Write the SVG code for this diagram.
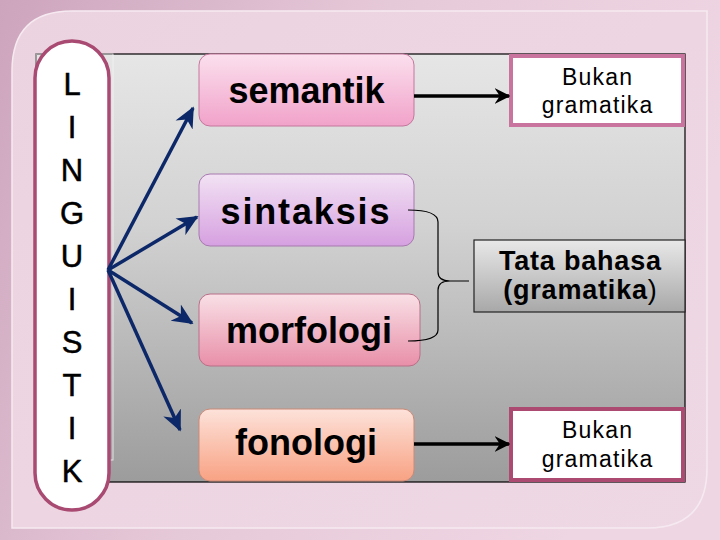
<svg xmlns="http://www.w3.org/2000/svg" width="720" height="540" viewBox="0 0 720 540">
<defs>
<linearGradient id="bg" x1="0" y1="0" x2="1" y2="0.3">
<stop offset="0" stop-color="#cda5bd"/>
<stop offset="0.5" stop-color="#e6c9d9"/>
<stop offset="1" stop-color="#efd6e3"/>
</linearGradient>
<linearGradient id="panel" x1="0" y1="0" x2="1" y2="1">
<stop offset="0" stop-color="#ecd3e0"/>
<stop offset="1" stop-color="#eed8e4"/>
</linearGradient>
<linearGradient id="gray" x1="0" y1="0" x2="0" y2="1">
<stop offset="0" stop-color="#e6e6e6"/>
<stop offset="0.4" stop-color="#d2d2d2"/>
<stop offset="1" stop-color="#9c9c9c"/>
</linearGradient>
<linearGradient id="gSem" x1="0" y1="0" x2="0" y2="1">
<stop offset="0" stop-color="#fbe0ee"/>
<stop offset="1" stop-color="#f1a2c9"/>
</linearGradient>
<linearGradient id="gSin" x1="0" y1="0" x2="0" y2="1">
<stop offset="0" stop-color="#f2e2f4"/>
<stop offset="1" stop-color="#d6a0e0"/>
</linearGradient>
<linearGradient id="gMor" x1="0" y1="0" x2="0" y2="1">
<stop offset="0" stop-color="#f9e0e6"/>
<stop offset="1" stop-color="#e88fa9"/>
</linearGradient>
<linearGradient id="gFon" x1="0" y1="0" x2="0" y2="1">
<stop offset="0" stop-color="#fde2da"/>
<stop offset="1" stop-color="#f8a283"/>
</linearGradient>
<linearGradient id="gTata" x1="0" y1="0" x2="0" y2="1">
<stop offset="0" stop-color="#e8e8e8"/>
<stop offset="1" stop-color="#a8a8a8"/>
</linearGradient>
<marker id="blue" viewBox="0 0 12 12" refX="11" refY="6" markerWidth="6" markerHeight="6" markerUnits="strokeWidth" orient="auto">
<path d="M0,0.5 L12,6 L0,11.5 L3.5,6 Z" fill="#0c2868"/>
</marker>
<marker id="black" viewBox="0 0 12 12" refX="11" refY="6" markerWidth="4.5" markerHeight="4.5" markerUnits="strokeWidth" orient="auto">
<path d="M0,0 L12,6 L0,12 L4,6 Z" fill="#000"/>
</marker>
</defs>
<style>
.node text{font-family:"Liberation Sans",Arial,sans-serif;font-weight:bold;font-size:36px;fill:#000;text-anchor:middle}
.nb{stroke-width:1}
.buk{font-family:"Liberation Sans",Arial,sans-serif;font-size:23px;letter-spacing:1.2px;fill:#000;text-anchor:middle}
.tata{font-family:"Liberation Sans",Arial,sans-serif;font-weight:bold;font-size:27px;letter-spacing:0.8px;fill:#000;text-anchor:middle}
.ling{font-family:"Liberation Sans",Arial,sans-serif;font-size:31px;fill:#000;stroke:#000;stroke-width:0.5;text-anchor:middle}
.conn line{stroke-width:3.5;fill:none}
</style>
<rect width="720" height="540" fill="url(#bg)"/>
<path d="M72,11 H707 V468 Q707,528 647,528 H12 V71 Q12,11 72,11 Z" fill="url(#panel)" stroke="#f6eaf1" stroke-width="1.5"/>
<rect x="36" y="54" width="649" height="428" fill="url(#gray)" stroke="#000" stroke-width="1.2"/>
<rect x="36" y="54" width="77" height="406" fill="none" stroke="#f4f4f4" stroke-width="1" opacity="0.8"/>

<g id="linguistik">
<rect x="35" y="41" width="74" height="469" rx="37" ry="37" fill="#fff" stroke="#a94a72" stroke-width="3.5"/>
<text class="ling" x="72" y="95">L</text>
<text class="ling" x="72" y="138">I</text>
<text class="ling" x="72" y="181">N</text>
<text class="ling" x="72" y="224">G</text>
<text class="ling" x="72" y="267">U</text>
<text class="ling" x="72" y="310">I</text>
<text class="ling" x="72" y="353">S</text>
<text class="ling" x="72" y="396">T</text>
<text class="ling" x="72" y="439">I</text>
<text class="ling" x="72" y="482">K</text>
</g>

<g id="semantik" class="node">
<rect x="199" y="54" width="215" height="72" rx="11" fill="url(#gSem)" stroke="#c4779c" class="nb"/>
<text x="306.5" y="103">semantik</text>
</g>
<g id="sintaksis" class="node">
<rect x="199" y="174" width="215" height="72" rx="11" fill="url(#gSin)" stroke="#a77aaf" class="nb"/>
<text x="305" y="224" textLength="169" lengthAdjust="spacing">sintaksis</text>
</g>
<g id="morfologi" class="node">
<rect x="199" y="294" width="221" height="72" rx="11" fill="url(#gMor)" stroke="#b86f88" class="nb"/>
<text x="309" y="343">morfologi</text>
</g>
<g id="fonologi" class="node">
<rect x="199" y="409" width="215" height="72" rx="11" fill="url(#gFon)" stroke="#c98a78" class="nb"/>
<text x="306" y="455">fonologi</text>
</g>

<g id="bukan1">
<rect x="511" y="56" width="172" height="69" fill="#fff" stroke="#c8749e" stroke-width="4"/>
<text class="buk" x="597.6" y="85">Bukan</text>
<text class="buk" x="597.6" y="113">gramatika</text>
</g>
<g id="bukan2">
<rect x="511" y="409" width="172" height="71" fill="#fff" stroke="#ad4a72" stroke-width="4"/>
<text class="buk" x="597.6" y="438">Bukan</text>
<text class="buk" x="597.6" y="467">gramatika</text>
</g>
<g id="tatabahasa">
<rect x="474" y="240" width="211" height="72" fill="url(#gTata)" stroke="#222" stroke-width="1.2"/>
<text class="tata" x="580.4" y="270">Tata bahasa</text>
<text class="tata" x="580.4" y="299">(gramatika<tspan font-weight="normal">)</tspan></text>
</g>

<g id="connectors" class="conn">
<line x1="108" y1="270" x2="193" y2="108" stroke="#0c2868" marker-end="url(#blue)"/>
<line x1="108" y1="270" x2="197" y2="217" stroke="#0c2868" marker-end="url(#blue)"/>
<line x1="108" y1="270" x2="192" y2="323" stroke="#0c2868" marker-end="url(#blue)"/>
<line x1="108" y1="270" x2="180" y2="430" stroke="#0c2868" marker-end="url(#blue)"/>
<line x1="414" y1="96" x2="509" y2="96" stroke="#000" marker-end="url(#black)"/>
<line x1="414" y1="444" x2="509" y2="444" stroke="#000" marker-end="url(#black)"/>
<path d="M408,210 Q438,210 438,222 V272 Q438,281 450,281 L469,281 M450,281 Q438,281 438,290 V330 Q438,341 408,341" fill="none" stroke="#000" stroke-width="1.2"/>
</g>
</svg>
